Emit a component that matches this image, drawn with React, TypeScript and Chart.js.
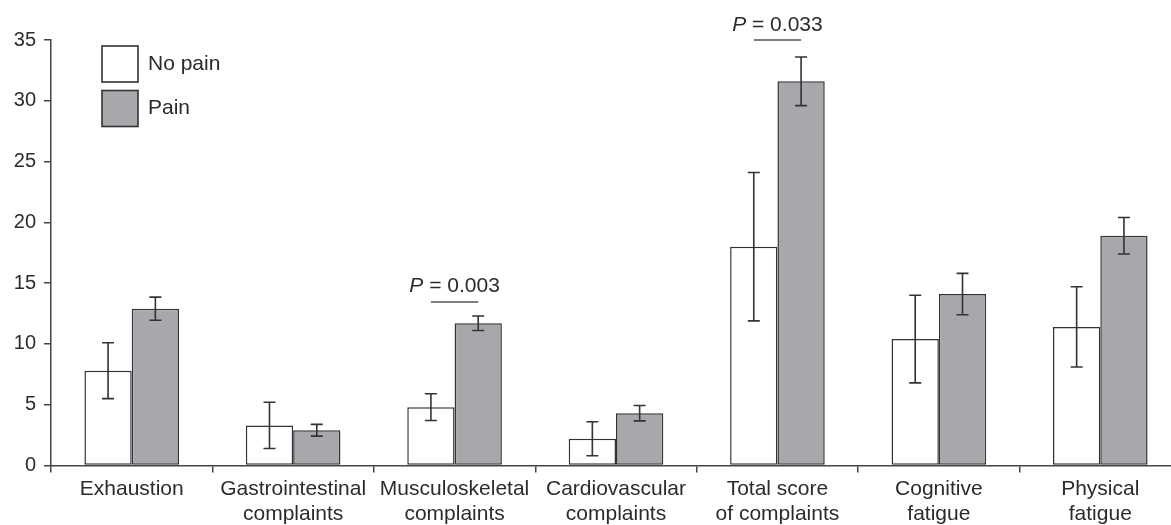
import React, { useEffect, useRef } from "react";
import { Chart, registerables } from "chart.js";

Chart.register(...registerables);

const categories: string[][] = [
  ["Exhaustion"],
  ["Gastrointestinal", "complaints"],
  ["Musculoskeletal", "complaints"],
  ["Cardiovascular", "complaints"],
  ["Total score", "of complaints"],
  ["Cognitive", "fatigue"],
  ["Physical", "fatigue"],
];

const seriesNames = ["No pain", "Pain"];
const noPainValues = [7.8, 3.3, 4.8, 2.2, 18.0, 10.4, 11.4];
const noPainErrors = [2.3, 1.9, 1.1, 1.4, 6.1, 3.6, 3.3];
const painValues = [12.9, 2.9, 11.7, 4.3, 31.6, 14.1, 18.9];
const painErrors = [0.95, 0.48, 0.6, 0.63, 2.0, 1.7, 1.5];

const sigCategoryIndex = [2, 4];
const sigPValues = ["0.003", "0.033"];
const sigLevels = [13.45, 35];

const yTicks = [0, 5, 10, 15, 20, 25, 30, 35];

const FONT = "'Liberation Sans', Arial, Helvetica, sans-serif";
const TEXT = "#2b2b2b";
const LINE = "#444";

const errorBarPlugin = {
  id: "errorBars",
  afterDatasetsDraw(chart: any) {
    const ctx = chart.ctx;
    const y = chart.scales.y;
    const errs = [noPainErrors, painErrors];
    ctx.save();
    ctx.strokeStyle = "#333";
    ctx.lineWidth = 1.6;
    chart.data.datasets.forEach((ds: any, i: number) => {
      const meta = chart.getDatasetMeta(i);
      meta.data.forEach((el: any, j: number) => {
        const v = ds.data[j];
        const e = errs[i][j];
        const x = el.x;
        const yt = y.getPixelForValue(v + e);
        const yb = y.getPixelForValue(v - e);
        ctx.beginPath();
        ctx.moveTo(x, yt);
        ctx.lineTo(x, yb);
        ctx.moveTo(x - 6, yt);
        ctx.lineTo(x + 6, yt);
        ctx.moveTo(x - 6, yb);
        ctx.lineTo(x + 6, yb);
        ctx.stroke();
      });
    });
    ctx.restore();
  },
};

const sigPlugin = {
  id: "significance",
  afterDatasetsDraw(chart: any) {
    const ctx = chart.ctx;
    const y = chart.scales.y;
    const xs = chart.scales.x;
    const m0 = chart.getDatasetMeta(0);
    const m1 = chart.getDatasetMeta(1);
    ctx.save();
    sigCategoryIndex.forEach((ci, k) => {
      const x0 = m0.data[ci].x;
      const x1 = m1.data[ci].x;
      const ly = y.getPixelForValue(sigLevels[k]);
      ctx.strokeStyle = "#555";
      ctx.lineWidth = 1.5;
      ctx.beginPath();
      ctx.moveTo(x0, ly);
      ctx.lineTo(x1, ly);
      ctx.stroke();
      const cx = xs.getPixelForValue(ci);
      const italic = "italic 21px " + FONT;
      const normal = "21px " + FONT;
      ctx.font = italic;
      const wP = ctx.measureText("P").width;
      ctx.font = normal;
      const rest = " = " + sigPValues[k];
      const wR = ctx.measureText(rest).width;
      const start = cx - (wP + wR) / 2;
      const by = ly - 9.5;
      ctx.fillStyle = TEXT;
      ctx.textBaseline = "alphabetic";
      ctx.textAlign = "left";
      ctx.font = italic;
      ctx.fillText("P", start, by);
      ctx.font = normal;
      ctx.fillText(rest, start + wP, by);
    });
    ctx.restore();
  },
};

const legendPlugin = {
  id: "boxLegend",
  afterDraw(chart: any) {
    const ctx = chart.ctx;
    const fills = ["#ffffff", "#a7a8ab"];
    ctx.save();
    seriesNames.forEach((name, i) => {
      const bx = 102;
      const by = 46 + i * 44.5;
      ctx.fillStyle = fills[i];
      ctx.fillRect(bx, by, 36, 36);
      ctx.strokeStyle = "#333";
      ctx.lineWidth = 1.6;
      ctx.strokeRect(bx, by, 36, 36);
      ctx.fillStyle = TEXT;
      ctx.font = "21px " + FONT;
      ctx.textBaseline = "middle";
      ctx.textAlign = "left";
      ctx.fillText(name, 148, by + 18);
    });
    ctx.restore();
  },
};

export default function App() {
  const ref = useRef<HTMLCanvasElement | null>(null);
  useEffect(() => {
    if (!ref.current) return;
    const chart = new Chart(ref.current, {
      type: "bar",
      data: {
        labels: categories,
        datasets: [
          {
            label: seriesNames[0],
            data: noPainValues,
            backgroundColor: "#ffffff",
            borderColor: "#333",
            borderWidth: 1.5,
            borderSkipped: false,
          },
          {
            label: seriesNames[1],
            data: painValues,
            backgroundColor: "#a7a8ab",
            borderColor: "#333",
            borderWidth: 1.5,
            borderSkipped: false,
          },
        ],
      },
      options: {
        animation: false,
        responsive: true,
        maintainAspectRatio: false,
        layout: { padding: { top: 40, right: 0, bottom: 0, left: 0 } },
        datasets: { bar: { categoryPercentage: 0.586, barPercentage: 1 } },
        plugins: {
          legend: { display: false },
          tooltip: { enabled: false },
        },
        scales: {
          x: {
            offset: true,
            afterFit: (s: any) => {
              s.height = 59.5;
            },
            grid: {
              offset: true,
              drawOnChartArea: false,
              drawTicks: true,
              tickLength: 7,
              color: LINE,
              lineWidth: 1.5,
            },
            border: { display: true, color: LINE, width: 1.5 },
            ticks: {
              color: TEXT,
              padding: 4,
              maxRotation: 0,
              autoSkip: false,
              font: { family: FONT, size: 21, lineHeight: 1.2 },
            },
          },
          y: {
            min: 0,
            max: 35,
            afterFit: (s: any) => {
              s.width = 51;
            },
            afterBuildTicks: (s: any) => {
              s.ticks = yTicks.map((v) => ({ value: v }));
            },
            grid: {
              drawOnChartArea: false,
              drawTicks: true,
              tickLength: 7,
              color: LINE,
              lineWidth: 1.5,
            },
            border: { display: true, color: LINE, width: 1.5 },
            ticks: {
              color: TEXT,
              padding: 8,
              font: { family: FONT, size: 20 },
            },
          },
        },
      },
      plugins: [errorBarPlugin, sigPlugin, legendPlugin],
    });
    return () => chart.destroy();
  }, []);

  return (
    <div
      style={{
        position: "fixed",
        left: 0,
        top: 0,
        width: 1171,
        height: 525,
        overflow: "hidden",
        background: "#fff",
      }}
    >
      <div style={{ position: "relative", width: 1181, height: 525 }}>
        <canvas ref={ref} />
      </div>
    </div>
  );
}
